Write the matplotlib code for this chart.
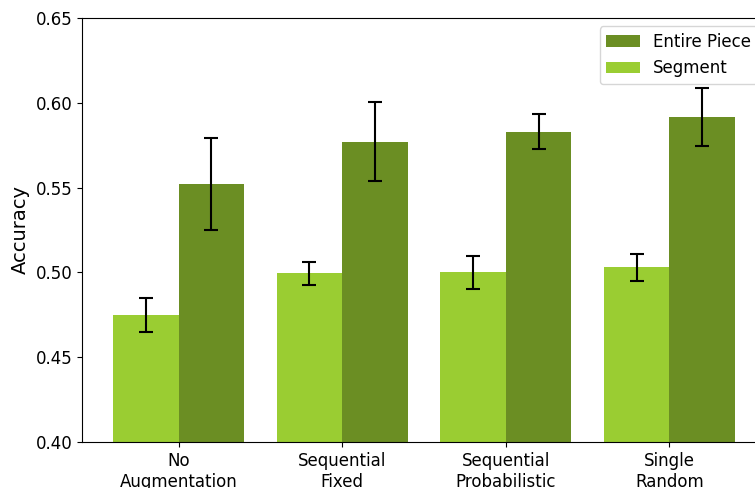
import matplotlib
matplotlib.use("Agg")
import matplotlib.pyplot as plt
import numpy as np

methods = ["No\nAugmentation", "Sequential\nFixed", "Sequential\nProbabilistic", "Single\nRandom"]
segment_acc = [0.475, 0.4995, 0.500, 0.503]
segment_err = [0.010, 0.0067, 0.0095, 0.008]
piece_acc = [0.552, 0.577, 0.583, 0.5915]
piece_err = [0.0272, 0.0233, 0.0102, 0.017]

plt.rcParams['font.size'] = 12

fig = plt.figure(figsize=(7.55, 4.88), dpi=100)
ax = fig.add_axes([82 / 755, 1 - 442 / 488, (766 - 82) / 755, (442 - 18) / 488])

x = np.arange(len(methods))
w = 0.4
seg = ax.bar(x - w / 2, segment_acc, w, yerr=segment_err, capsize=5,
             color='yellowgreen', label='Segment',
             error_kw=dict(elinewidth=1.5, capthick=1.5))
ent = ax.bar(x + w / 2, piece_acc, w, yerr=piece_err, capsize=5,
             color='olivedrab', label='Entire Piece',
             error_kw=dict(elinewidth=1.5, capthick=1.5))

ax.set_ylim(0.40, 0.65)
ax.set_yticks([0.40, 0.45, 0.50, 0.55, 0.60, 0.65])
ax.set_yticklabels(["0.40", "0.45", "0.50", "0.55", "0.60", "0.65"])
ax.set_xticks(x)
ax.set_xticklabels(methods)
ax.set_ylabel("Accuracy", fontsize=14)
ax.legend([ent, seg], ['Entire Piece', 'Segment'], loc='upper right')

fig.savefig("out.png", dpi=100)
